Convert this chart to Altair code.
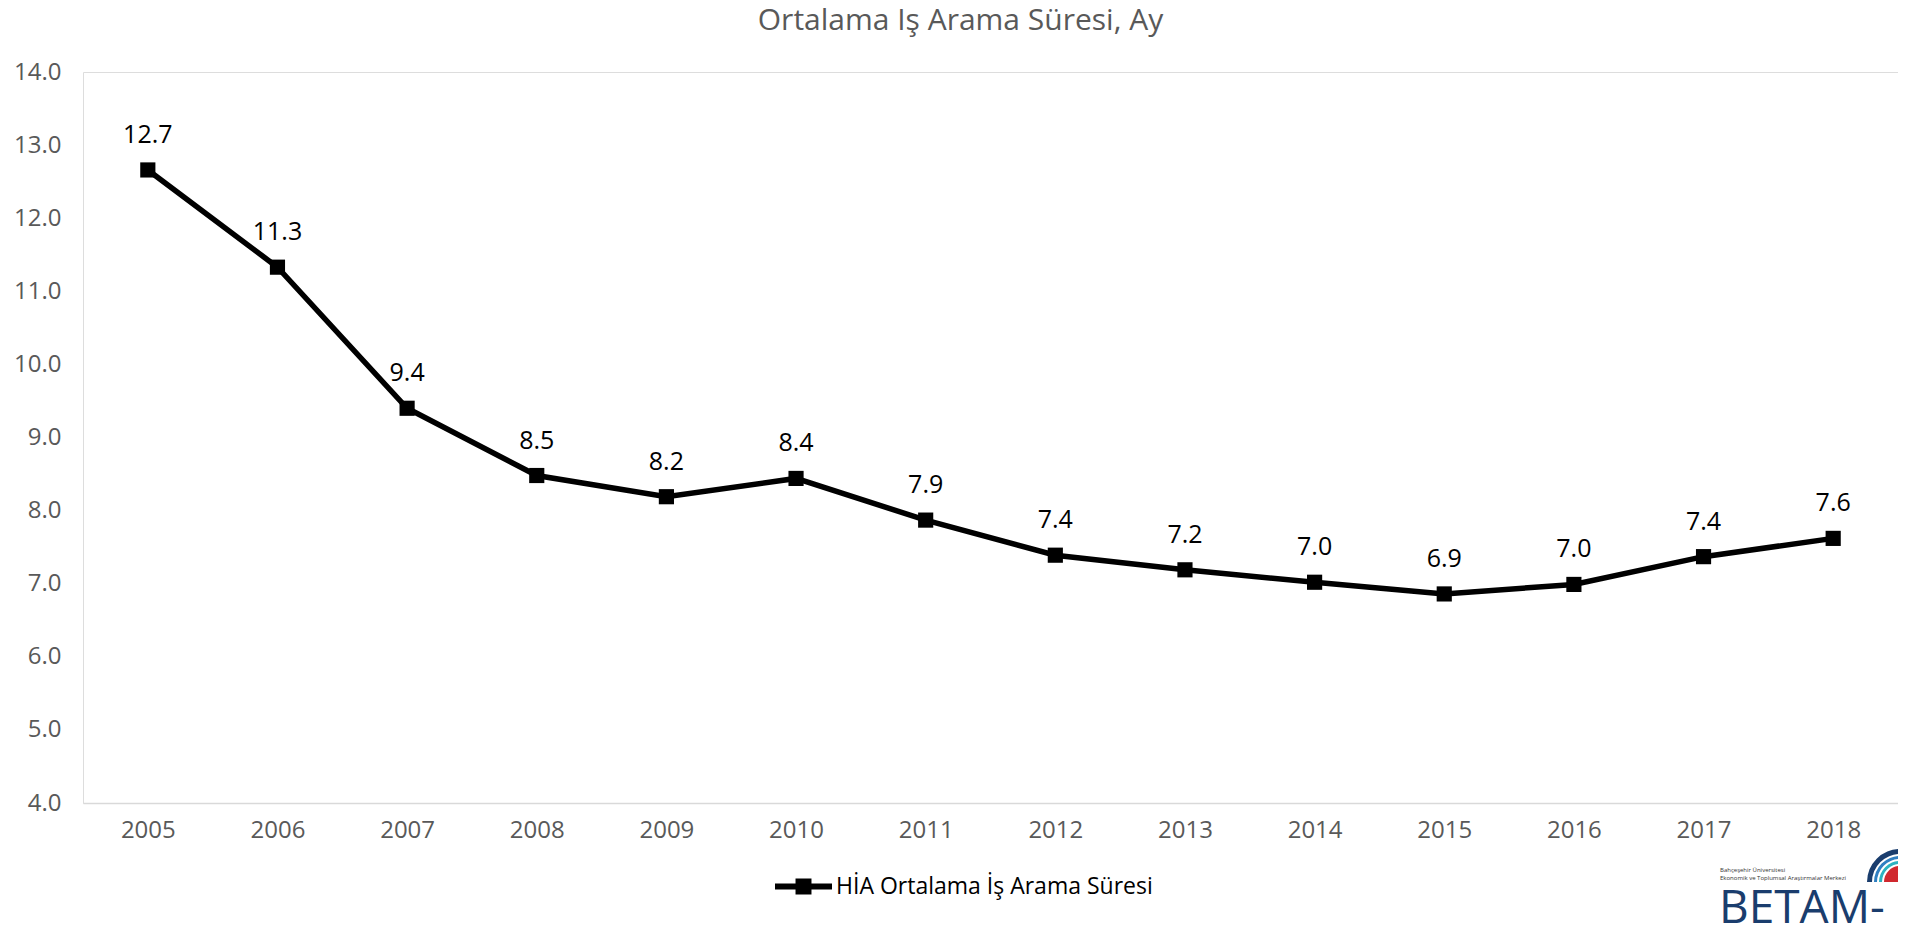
import altair as alt
import pandas as pd

years = ["2005", "2006", "2007", "2008", "2009", "2010", "2011",
         "2012", "2013", "2014", "2015", "2016", "2017", "2018"]
values = [12.66, 11.33, 9.40, 8.48, 8.19, 8.44, 7.87,
          7.39, 7.19, 7.02, 6.86, 6.99, 7.37, 7.62]
series_name = "HİA Ortalama İş Arama Süresi"
y_ticks = [4, 5, 6, 7, 8, 9, 10, 11, 12, 13, 14]

df = pd.DataFrame({"year": years, "value": values, "series": series_name})
one = pd.DataFrame({"a": [0]})

FONT = "Open Sans"
GREY = "#595959"
W, H = 1815, 731

x = alt.X("year:O", scale=alt.Scale(type="point", padding=0.5),
          axis=alt.Axis(title=None, labelAngle=0, ticks=False, domainColor="#d9d9d9",
                        domainWidth=1.5, labelColor=GREY, labelFont=FONT, labelFontSize=24,
                        labelPadding=15, grid=False))
y = alt.Y("value:Q", scale=alt.Scale(domain=[4, 14], nice=False, zero=False),
          axis=alt.Axis(title=None, values=y_ticks, format=".1f", domain=False, ticks=False,
                        grid=False, labelColor=GREY, labelFont=FONT, labelFontSize=24,
                        labelPadding=22))

legend_path = "M-1,-0.105 H1 V0.105 H-1 Z M-0.28,-0.28 H0.28 V0.28 H-0.28 Z"
color = alt.Color("series:N", scale=alt.Scale(range=["black"]),
                  legend=alt.Legend(title=None, orient="none", legendX=692, legendY=786,
                                    padding=0, symbolType=legend_path, symbolSize=3249,
                                    symbolFillColor="black", symbolStrokeWidth=0,
                                    labelFont=FONT, labelFontSize=23, labelColor="black",
                                    labelOffset=4, labelLimit=0))

base = alt.Chart(df)
line = base.mark_line(strokeWidth=5.5).encode(x=x, y=y, color=color)
pts = base.mark_point(shape="square", filled=True, size=230, opacity=1).encode(
    x=x, y=y, color=alt.Color("series:N", scale=alt.Scale(range=["black"]), legend=None))
labels = base.mark_text(dy=-27, baseline="alphabetic", font=FONT, fontSize=25,
                        color="black").encode(x=x, y=y, text=alt.Text("value:Q", format=".1f"))

logo_c = (1817, 810)
arcs = []
for r1, r2, col in [(0, 16, "#d0282e"), (18, 21, "#2bb3c0"), (23, 26, "#2f7fc1"), (28, 33, "#1a3d6d")]:
    arcs.append(alt.Chart(one).mark_arc(color=col, theta=4.71239, theta2=6.28318,
                                        radius=r2, radius2=r1).encode(
        x=alt.value(logo_c[0]), y=alt.value(logo_c[1])))
t1 = alt.Chart(one).mark_text(text="Bahçeşehir Üniversitesi", font=FONT, fontSize=6,
                              align="left", color="#333333").encode(x=alt.value(1637), y=alt.value(798))
t2 = alt.Chart(one).mark_text(text="Ekonomik ve Toplumsal Araştırmalar Merkezi", font=FONT,
                              fontSize=6, align="left", color="#333333").encode(
    x=alt.value(1637), y=alt.value(806))
t3 = alt.Chart(one).mark_text(text="BETAM-", font=FONT, fontSize=46, align="left",
                              baseline="alphabetic", color="#1a3d6d").encode(
    x=alt.value(1636), y=alt.value(851))

chart = alt.layer(line, pts, labels, *arcs, t1, t2, t3).properties(
    width=W, height=H,
    title=alt.TitleParams("Ortalama İş Arama Süresi, Ay", font=FONT, fontSize=30,
                          fontWeight="normal", color=GREY, anchor="middle", offset=24,
                          dx=-30),
    autosize=alt.AutoSizeParams(type="none"),
    padding={"left": 75, "top": 64, "right": 0, "bottom": 120},
).configure_view(stroke=None).configure(background="white")

chart.save("out.html", embed_options={"renderer": "svg", "actions": False})
